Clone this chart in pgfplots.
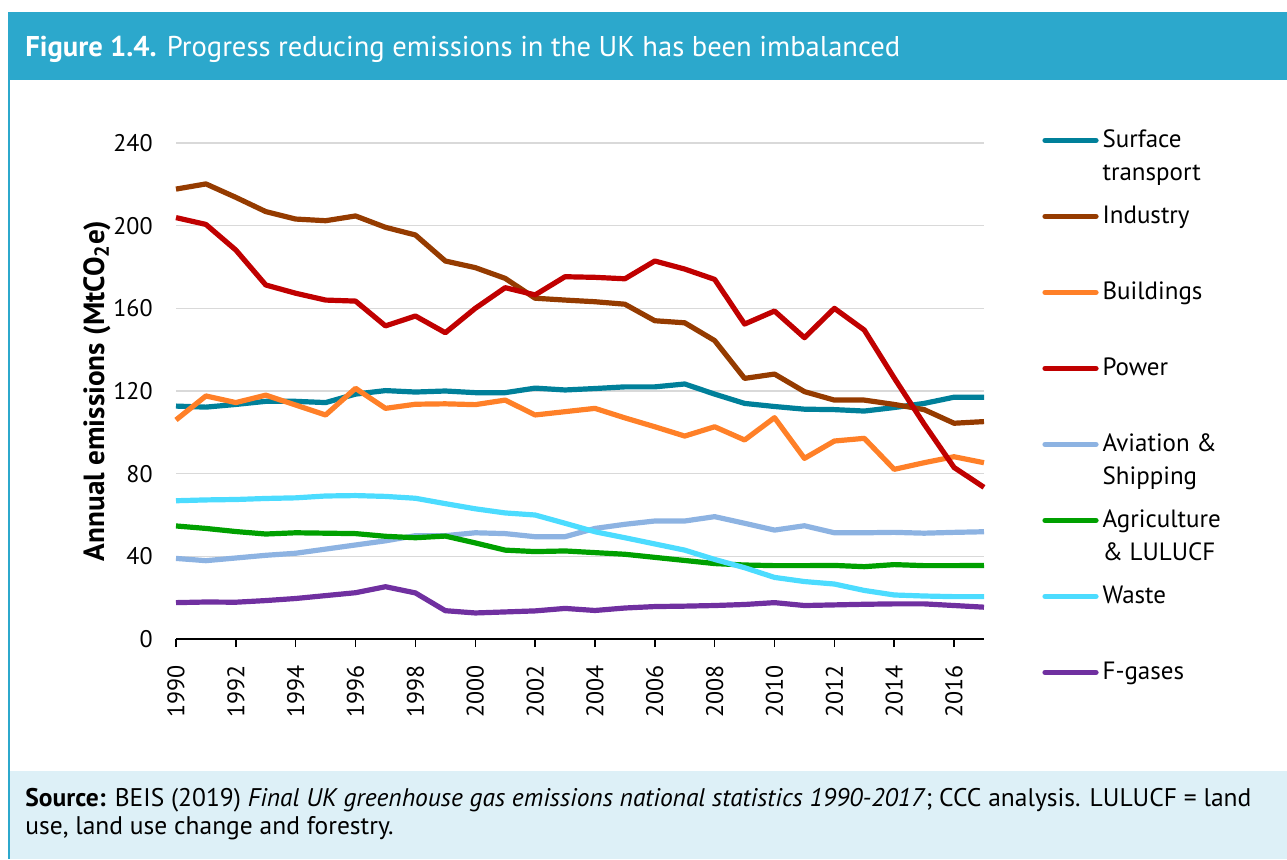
\documentclass[border=0pt]{standalone}
\usepackage{fontspec}
\setmainfont{PT Sans}
\usepackage{pgfplots}
\usepackage{pgfplotstable}
\pgfplotsset{compat=1.18}
\definecolor{hdr}{HTML}{2CA8CC}
\definecolor{srcbg}{HTML}{DDF0F7}
\definecolor{gridc}{HTML}{D9D9D9}
\definecolor{cst}{HTML}{00809A}
\definecolor{cind}{HTML}{953B00}
\definecolor{cbld}{HTML}{FF8028}
\definecolor{cpow}{HTML}{C00000}
\definecolor{cav}{HTML}{8DB3E2}
\definecolor{cag}{HTML}{00A000}
\definecolor{cwas}{HTML}{4CDCFF}
\definecolor{cfg}{HTML}{7030A0}
\pgfplotstableread{
year st ind bld pow av ag waste fg
1990 112.7 217.7 106.0 203.9 39.0 54.7 66.9 17.6
1991 112.2 220.2 117.6 200.6 37.9 53.5 67.3 17.9
1992 113.5 213.7 114.4 188.2 39.2 52.0 67.5 17.8
1993 115.0 206.8 118.0 171.3 40.5 50.8 68.0 18.6
1994 115.0 203.2 113.2 167.3 41.5 51.4 68.3 19.6
1995 114.4 202.4 108.4 164.0 43.5 51.2 69.2 21.0
1996 118.5 204.7 121.3 163.5 45.5 51.0 69.4 22.4
1997 120.2 199.2 111.6 151.5 47.5 49.7 69.0 25.3
1998 119.5 195.5 113.6 156.3 50.0 49.0 68.1 22.3
1999 120.0 182.9 113.8 148.2 50.0 49.8 65.5 13.7
2000 119.2 179.7 113.4 160.0 51.4 46.5 63.0 12.6
2001 119.2 174.5 115.6 170.0 51.0 43.0 61.0 13.1
2002 121.4 164.9 108.4 166.5 49.5 42.3 60.0 13.6
2003 120.5 164.0 110.0 175.3 49.5 42.6 56.0 14.8
2004 121.2 163.2 111.6 175.0 53.5 41.8 51.9 13.8
2005 122.0 162.0 107.0 174.3 55.5 41.0 49.0 15.0
2006 122.0 154.0 102.7 182.9 57.1 39.5 46.0 15.7
2007 123.4 153.0 98.2 179.0 57.1 38.0 43.0 15.9
2008 118.5 144.4 102.7 174.0 59.2 36.5 38.5 16.2
2009 114.0 126.1 96.3 152.4 56.0 35.8 34.5 16.7
2010 112.5 128.2 107.1 158.7 52.7 35.5 29.8 17.6
2011 111.2 119.7 87.4 145.8 54.8 35.5 27.8 16.2
2012 111.0 115.6 95.8 160.0 51.4 35.6 26.6 16.5
2013 110.3 115.6 97.1 149.5 51.4 35.0 23.5 16.8
2014 112.0 113.5 82.1 126.3 51.6 36.0 21.3 17.0
2015 114.0 111.0 85.3 104.0 51.2 35.5 20.8 17.0
2016 117.0 104.4 88.2 83.0 51.6 35.5 20.5 16.2
2017 117.0 105.2 85.3 73.4 51.9 35.6 20.5 15.4
}\datatable
\newcommand{\two}[2]{\smash{\begin{tabular}[t]{@{}l@{}}#1\\[1.5pt]#2\end{tabular}}}
\begin{document}
\begin{tikzpicture}
\useasboundingbox (0,0) rectangle (643.5pt,429.5pt);
\fill[hdr] (4pt,389.5pt) rectangle (643.5pt,423.5pt);
\fill[hdr] (4pt,0pt) rectangle (5pt,423.5pt);
\fill[srcbg] (5pt,0pt) rectangle (643.5pt,44pt);
\node[anchor=base west, inner sep=0pt, text=white, font=\fontsize{14.3}{17}\selectfont] at (12.5pt,401pt) {\textbf{Figure 1.4.} Progress reducing emissions in the UK has been imbalanced};
\node[anchor=base west, inner sep=0pt, font=\fontsize{12.75}{15}\selectfont] at (12.5pt,26.5pt) {\textbf{Source:} BEIS (2019) \textit{Final UK greenhouse gas emissions national statistics 1990-2017}; CCC analysis. LULUCF = land};
\node[anchor=base west, inner sep=0pt, font=\fontsize{12.75}{15}\selectfont] at (12.5pt,12.5pt) {use, land use change and forestry.};
\begin{axis}[
  at={(88pt,110pt)}, anchor=south west,
  scale only axis, width=404pt, height=248pt,
  xmin=1990, xmax=2017, ymin=0, ymax=240,
  xtick={1990,1992,...,2016}, ytick={0,40,...,240},
  axis x line*=bottom, axis y line*=left,
  x axis line style={-, black, line width=0.75pt},
  y axis line style={draw=none},
  ymajorgrids, grid style={color=gridc, line width=0.75pt},
  tick align=outside, major tick length=4pt,
  xtick style={black, line width=0.75pt},
  ytick style={draw=none},
  /pgf/number format/assume math mode=true,
  /pgf/number format/1000 sep={},
  tick label style={font=\fontsize{12}{14}\selectfont},
  xticklabel shift=9pt,
  xticklabel style={rotate=90, anchor=east, inner sep=0pt},
  yticklabel style={anchor=east, inner sep=0pt, xshift=-7.5pt},
  ylabel={\bfseries Annual emissions (MtCO\textsubscript{2}e)},
  ylabel style={at={(axis description cs:-0.0978,0.5)}, anchor=center, font=\fontsize{14.6}{16}\selectfont},
  clip=false,
  every axis plot/.append style={line width=2.6pt, line join=round},
  legend image code/.code={\draw[#1, line cap=round] (0pt,0pt) -- (25.5pt,0pt);},
  legend cell align=left,
  legend style={at={(1.0718,1.0202)}, anchor=north west, draw=none, fill=none, inner sep=0pt, row sep=31pt, column sep=2pt,
    nodes={inner sep=0pt, text height=7pt, text depth=0pt, font=\fontsize{12.5}{15}\selectfont}},
]
\addplot[cst] table[x=year, y=st] {\datatable};
\addlegendentry{\two{Surface}{transport}}
\addplot[cind] table[x=year, y=ind] {\datatable};
\addlegendentry{Industry}
\addplot[cbld] table[x=year, y=bld] {\datatable};
\addlegendentry{Buildings}
\addplot[cpow] table[x=year, y=pow] {\datatable};
\addlegendentry{Power}
\addplot[cav] table[x=year, y=av] {\datatable};
\addlegendentry{\two{Aviation \&}{Shipping}}
\addplot[cag] table[x=year, y=ag] {\datatable};
\addlegendentry{\two{Agriculture}{\& LULUCF}}
\addplot[cwas] table[x=year, y=waste] {\datatable};
\addlegendentry{Waste}
\addplot[cfg] table[x=year, y=fg] {\datatable};
\addlegendentry{F-gases}
\end{axis}
\end{tikzpicture}
\end{document}
